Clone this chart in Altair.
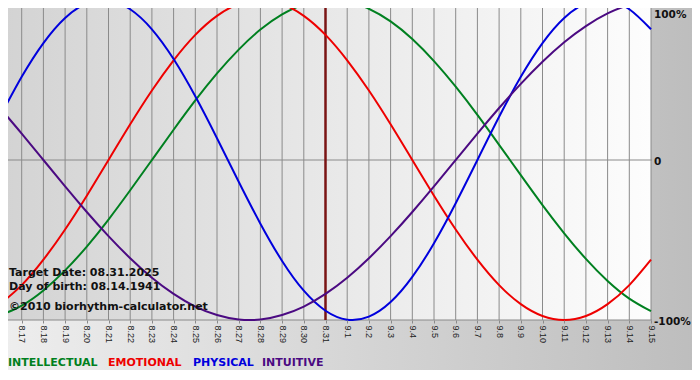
import altair as alt
import pandas as pd

# ---- data ----
dates = ["8.16", "8.17", "8.18", "8.19", "8.20", "8.21", "8.22", "8.23", "8.24", "8.25",
         "8.26", "8.27", "8.28", "8.29", "8.30", "8.31", "9.1", "9.2", "9.3", "9.4",
         "9.5", "9.6", "9.7", "9.8", "9.9", "9.10", "9.11", "9.12", "9.13", "9.14", "9.15"]

physical = [27.0, 52.0, 73.1, 88.8, 97.9, 99.8, 94.2, 81.7, 63.1, 39.8, 13.6, -13.6, -39.8,
            -63.1, -81.7, -94.2, -99.8, -97.9, -88.8, -73.1, -52.0, -27.0, 0.0, 27.0, 52.0,
            73.1, 88.8, 97.9, 99.8, 94.2, 81.7]
emotional = [-90.1, -78.2, -62.3, -43.4, -22.3, 0.0, 22.3, 43.4, 62.3, 78.2, 90.1, 97.5, 100.0,
             97.5, 90.1, 78.2, 62.3, 43.4, 22.3, 0.0, -22.3, -43.4, -62.3, -78.2, -90.1, -97.5,
             -100.0, -97.5, -90.1, -78.2, -62.3]
intellectual = [-97.2, -91.0, -81.5, -69.0, -54.1, -37.2, -18.9, 0.0, 18.9, 37.2, 54.1, 69.0,
                81.5, 91.0, 97.2, 99.9, 99.0, 94.5, 86.6, 75.6, 61.8, 45.8, 28.2, 9.5, -9.5,
                -28.2, -45.8, -61.8, -75.6, -86.6, -94.5]
intuitive = [32.5, 16.5, 0.0, -16.5, -32.5, -47.6, -61.4, -73.6, -83.7, -91.6, -96.9, -99.7,
             -99.7, -96.9, -91.6, -83.7, -73.6, -61.4, -47.6, -32.5, -16.5, 0.0, 16.5, 32.5,
             47.6, 61.4, 73.6, 83.7, 91.6, 96.9, 99.7]

series_names = ["INTELLECTUAL", "EMOTIONAL", "PHYSICAL", "INTUITIVE"]
series_colors = ["#008020", "#ee0000", "#0000dd", "#4b0a82"]

target_date = "8.31"
info_lines = ["Target Date: 08.31.2025", "Day of birth: 08.14.1941", "\u00a92010 biorhythm-calculator.net"]

y_tick_values = [100, 0, -100]
y_tick_labels = ["100%", "0", "-100%"]
h_lines = [0, -100]

# ---- tables ----
rows = []
for name, vals in zip(series_names, [intellectual, emotional, physical, intuitive]):
    for d, v in zip(dates, vals):
        rows.append({"date": d, "value": v, "series": name})
df = pd.DataFrame(rows)
dates_df = pd.DataFrame({"date": dates})
one = pd.DataFrame({"a": [0]})

W, H = 651, 320
xscale = alt.Scale(type="point", padding=0, domain=dates)
yscale = alt.Scale(domain=[-100, 100], nice=False, zero=False)
xaxis = alt.Axis(title=None, labelAngle=90, labelFont="Liberation Sans", labelFontSize=9,
                 labelColor="#222222", ticks=True, tickSize=3, tickColor="#8a8a8a",
                 tickWidth=1, domain=False, grid=False, labelPadding=2, zindex=2)

outer_bg = alt.Chart(one).mark_rect(
    color=alt.Gradient(gradient="linear",
                       stops=[alt.GradientStop(color="#eeeeee", offset=0),
                              alt.GradientStop(color="#bdbdbd", offset=1)],
                       x1=0, x2=1, y1=0, y2=0)
).encode(x=alt.value(0), x2=alt.value(700), y=alt.value(0), y2=alt.value(370))

plot_bg = alt.Chart(one).mark_rect(
    color=alt.Gradient(gradient="linear",
                       stops=[alt.GradientStop(color="#d3d3d3", offset=0),
                              alt.GradientStop(color="#fdfdfd", offset=1)],
                       x1=0, x2=1, y1=0, y2=0)
).encode(x=alt.value(0), x2=alt.value(W), y=alt.value(0), y2=alt.value(H))

vgrid = alt.Chart(dates_df).mark_rule(color="#8a8a8a", strokeWidth=1).encode(
    x=alt.X("date:O", scale=xscale, axis=xaxis),
    y=alt.value(0), y2=alt.value(H))

hgrid = alt.Chart(pd.DataFrame({"v": h_lines})).mark_rule(color="#8a8a8a", strokeWidth=1).encode(
    y=alt.Y("v:Q", scale=yscale, axis=None),
    x=alt.value(0), x2=alt.value(W + 1))

target = alt.Chart(pd.DataFrame({"date": [target_date]})).mark_rule(
    color="#7a1414", strokeWidth=2.5).encode(
    x=alt.X("date:O", scale=xscale, axis=xaxis),
    y=alt.value(0), y2=alt.value(H))

lines = alt.Chart(df).mark_line(strokeWidth=2, interpolate="natural").encode(
    x=alt.X("date:O", scale=xscale, axis=xaxis),
    y=alt.Y("value:Q", scale=yscale, axis=None),
    color=alt.Color("series:N", scale=alt.Scale(domain=series_names, range=series_colors), legend=None),
    detail="series:N")

ylab_df = pd.DataFrame({"v": y_tick_values, "t": y_tick_labels})
ylab_top = alt.Chart(ylab_df.iloc[[0]]).mark_text(
    align="left", baseline="middle", dy=15, font="DejaVu Sans", fontWeight="bold",
    fontSize=10.5, color="#111111").encode(
    y=alt.Y("v:Q", scale=yscale, axis=None), x=alt.value(654), text="t:N")
ylab_rest = alt.Chart(ylab_df.iloc[1:]).mark_text(
    align="left", baseline="middle", dy=2, font="DejaVu Sans", fontWeight="bold",
    fontSize=10.5, color="#111111").encode(
    y=alt.Y("v:Q", scale=yscale, axis=None), x=alt.value(654), text="t:N")

info_layers = []
for txt, yb in zip(info_lines, [276, 290, 310]):
    info_layers.append(
        alt.Chart(pd.DataFrame({"t": [txt]})).mark_text(
            align="left", baseline="alphabetic", font="DejaVu Sans", fontWeight="bold",
            fontSize=11, color="#111111").encode(x=alt.value(9), y=alt.value(yb), text="t:N"))

legend_layers = []
for name, col, xp in zip(series_names, series_colors, [8, 108, 193, 262]):
    legend_layers.append(
        alt.Chart(pd.DataFrame({"t": [name]})).mark_text(
            align="left", baseline="alphabetic", font="DejaVu Sans", fontWeight="bold",
            fontSize=11, color=col).encode(x=alt.value(xp), y=alt.value(366), text="t:N"))

chart = alt.layer(outer_bg, plot_bg, vgrid, hgrid, target, lines, ylab_top, ylab_rest,
                  *info_layers, *legend_layers).properties(
    width=W, height=H,
    padding={"left": -8, "top": -8, "right": 41, "bottom": 50},
    autosize=alt.AutoSizeParams(type="none"),
).configure_view(stroke=None).configure(background="white")

chart.save("out.html", embed_options={"renderer": "svg", "actions": False})
